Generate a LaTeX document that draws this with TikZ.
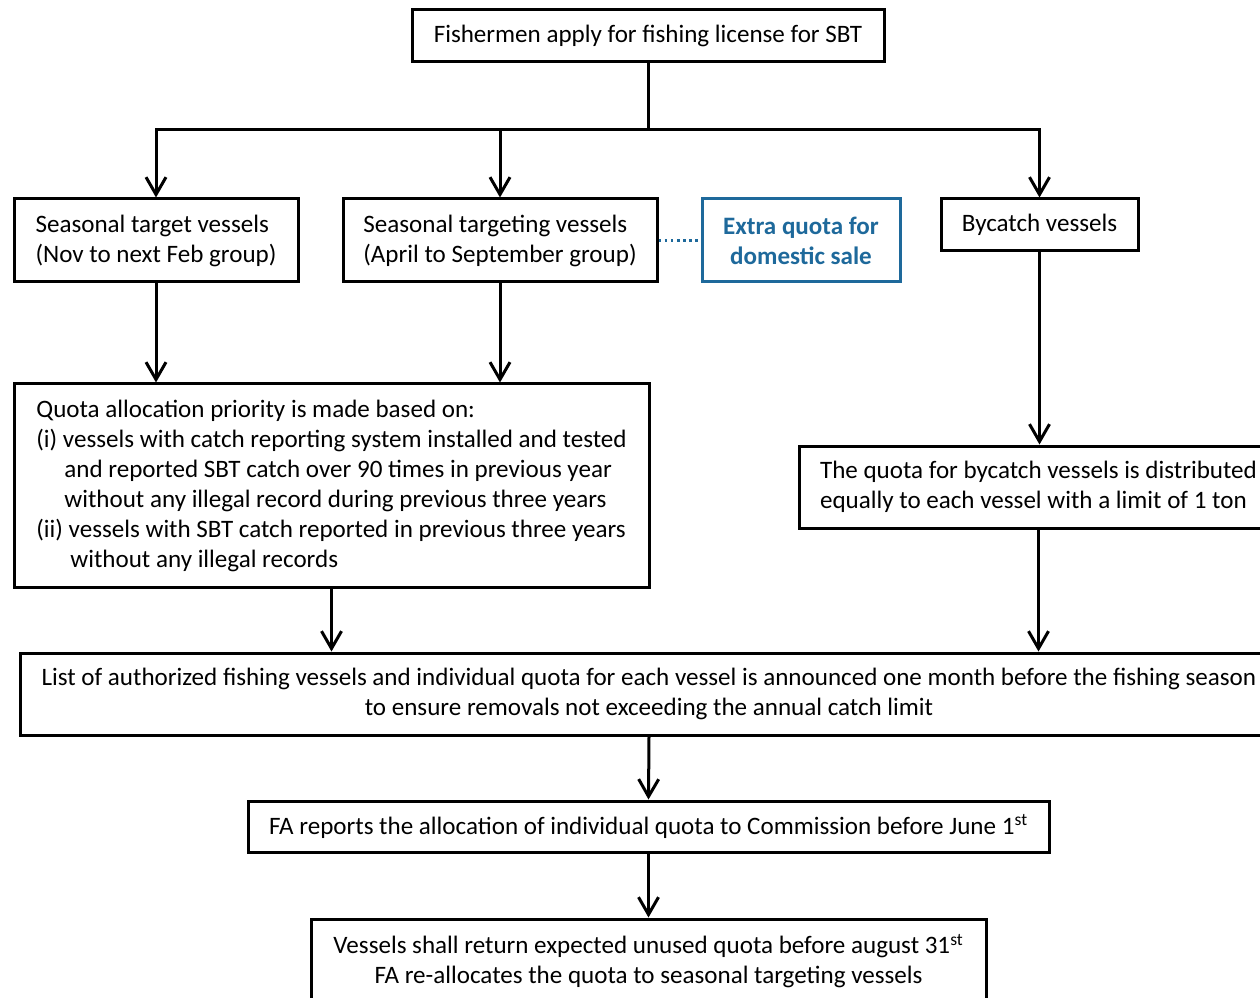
\documentclass[tikz,border=0pt]{standalone}
\usepackage{fontspec}
\setmainfont{Carlito}
\usetikzlibrary{arrows.meta}
\definecolor{bluebox}{RGB}{30,105,155}
\begin{document}
\begin{tikzpicture}[x=0.75pt,y=-0.75pt,
  font=\fontsize{18.8}{22.5}\selectfont,
  box/.style={draw, line width=2.25pt, inner sep=0pt, align=center},
  arr/.style={line width=2.25pt, -{Straight Barb[length=13pt,width=15pt,line width=2.25pt]}},
  ln/.style={line width=2.25pt}]
\useasboundingbox (0,0) rectangle (1260,998);

\node[box, minimum width=354pt, minimum height=39pt] (top) at (648,36) {Fishermen apply for fishing license for SBT};

\node[box, minimum width=213pt, minimum height=62.25pt, align=left] (st) at (156,240.5)
  {Seasonal target vessels\\(Nov to next Feb group)};
\node[box, minimum width=235.5pt, minimum height=62.25pt, align=left] (tv) at (500,240.5)
  {Seasonal targeting vessels\\(April to September group)};
\node[box, draw=bluebox, text=bluebox, font=\fontsize{18.8}{22.5}\selectfont\bfseries, minimum width=148.5pt, minimum height=62.25pt] (ex) at (801,240.5)
  {Extra quota for\\domestic sale};
\node[box, minimum width=147.75pt, minimum height=39pt] (by) at (1039.5,225) {Bycatch vessels};

\node[box, minimum width=476.25pt, minimum height=152.25pt, align=left] (qa) at (331.5,485.5)
  {Quota allocation priority is made based on:\\
   (i) vessels with catch reporting system installed and tested\\
   \hspace*{21pt}and reported SBT catch over 90 times in previous year\\
   \hspace*{21pt}without any illegal record during previous three years\\
   (ii) vessels with SBT catch reported in previous three years\\
   \hspace*{25.5pt}without any illegal records};

\node[box, minimum width=359.25pt, minimum height=61.5pt, align=left] (bq) at (1038.5,487)
  {The quota for bycatch vessels is distributed\\equally to each vessel with a limit of 1 ton};

\node[box, minimum width=943.5pt, minimum height=61.5pt] (list) at (649,694)
  {List of authorized fishing vessels and individual quota for each vessel is announced one month before the fishing season\\to ensure removals not exceeding the annual catch limit};

\node[box, minimum width=600.75pt, minimum height=38.25pt] (fa) at (648.5,826.5)
  {FA reports the allocation of individual quota to Commission before June 1\textsuperscript{st}};

\node[box, minimum width=506.25pt, minimum height=63pt] (ve) at (648.5,961)
  {Vessels shall return expected unused quota before august 31\textsuperscript{st}\\FA re-allocates the quota to seasonal targeting vessels};

\coordinate (j) at (648,130);
\draw[ln] (top.south) -- (j);
\draw[arr] (j) -| (st.north);
\draw[arr] (j) -| (tv.north);
\draw[arr] (j) -| (by.north);

\draw[bluebox, line width=2pt, dash pattern=on 2pt off 2.6pt] (tv.east) -- (ex.west);

\draw[arr] (st.south) -- (st.south |- qa.north);
\draw[arr] (tv.south) -- (tv.south |- qa.north);
\draw[arr] (by.south) -- (by.south |- bq.north);
\draw[arr] (qa.south) -- (qa.south |- list.north);
\draw[arr] (bq.south) -- (bq.south |- list.north);
\draw[arr] (list.south) -- (fa.north);
\draw[arr] (fa.south) -- (ve.north);
\end{tikzpicture}
\end{document}
